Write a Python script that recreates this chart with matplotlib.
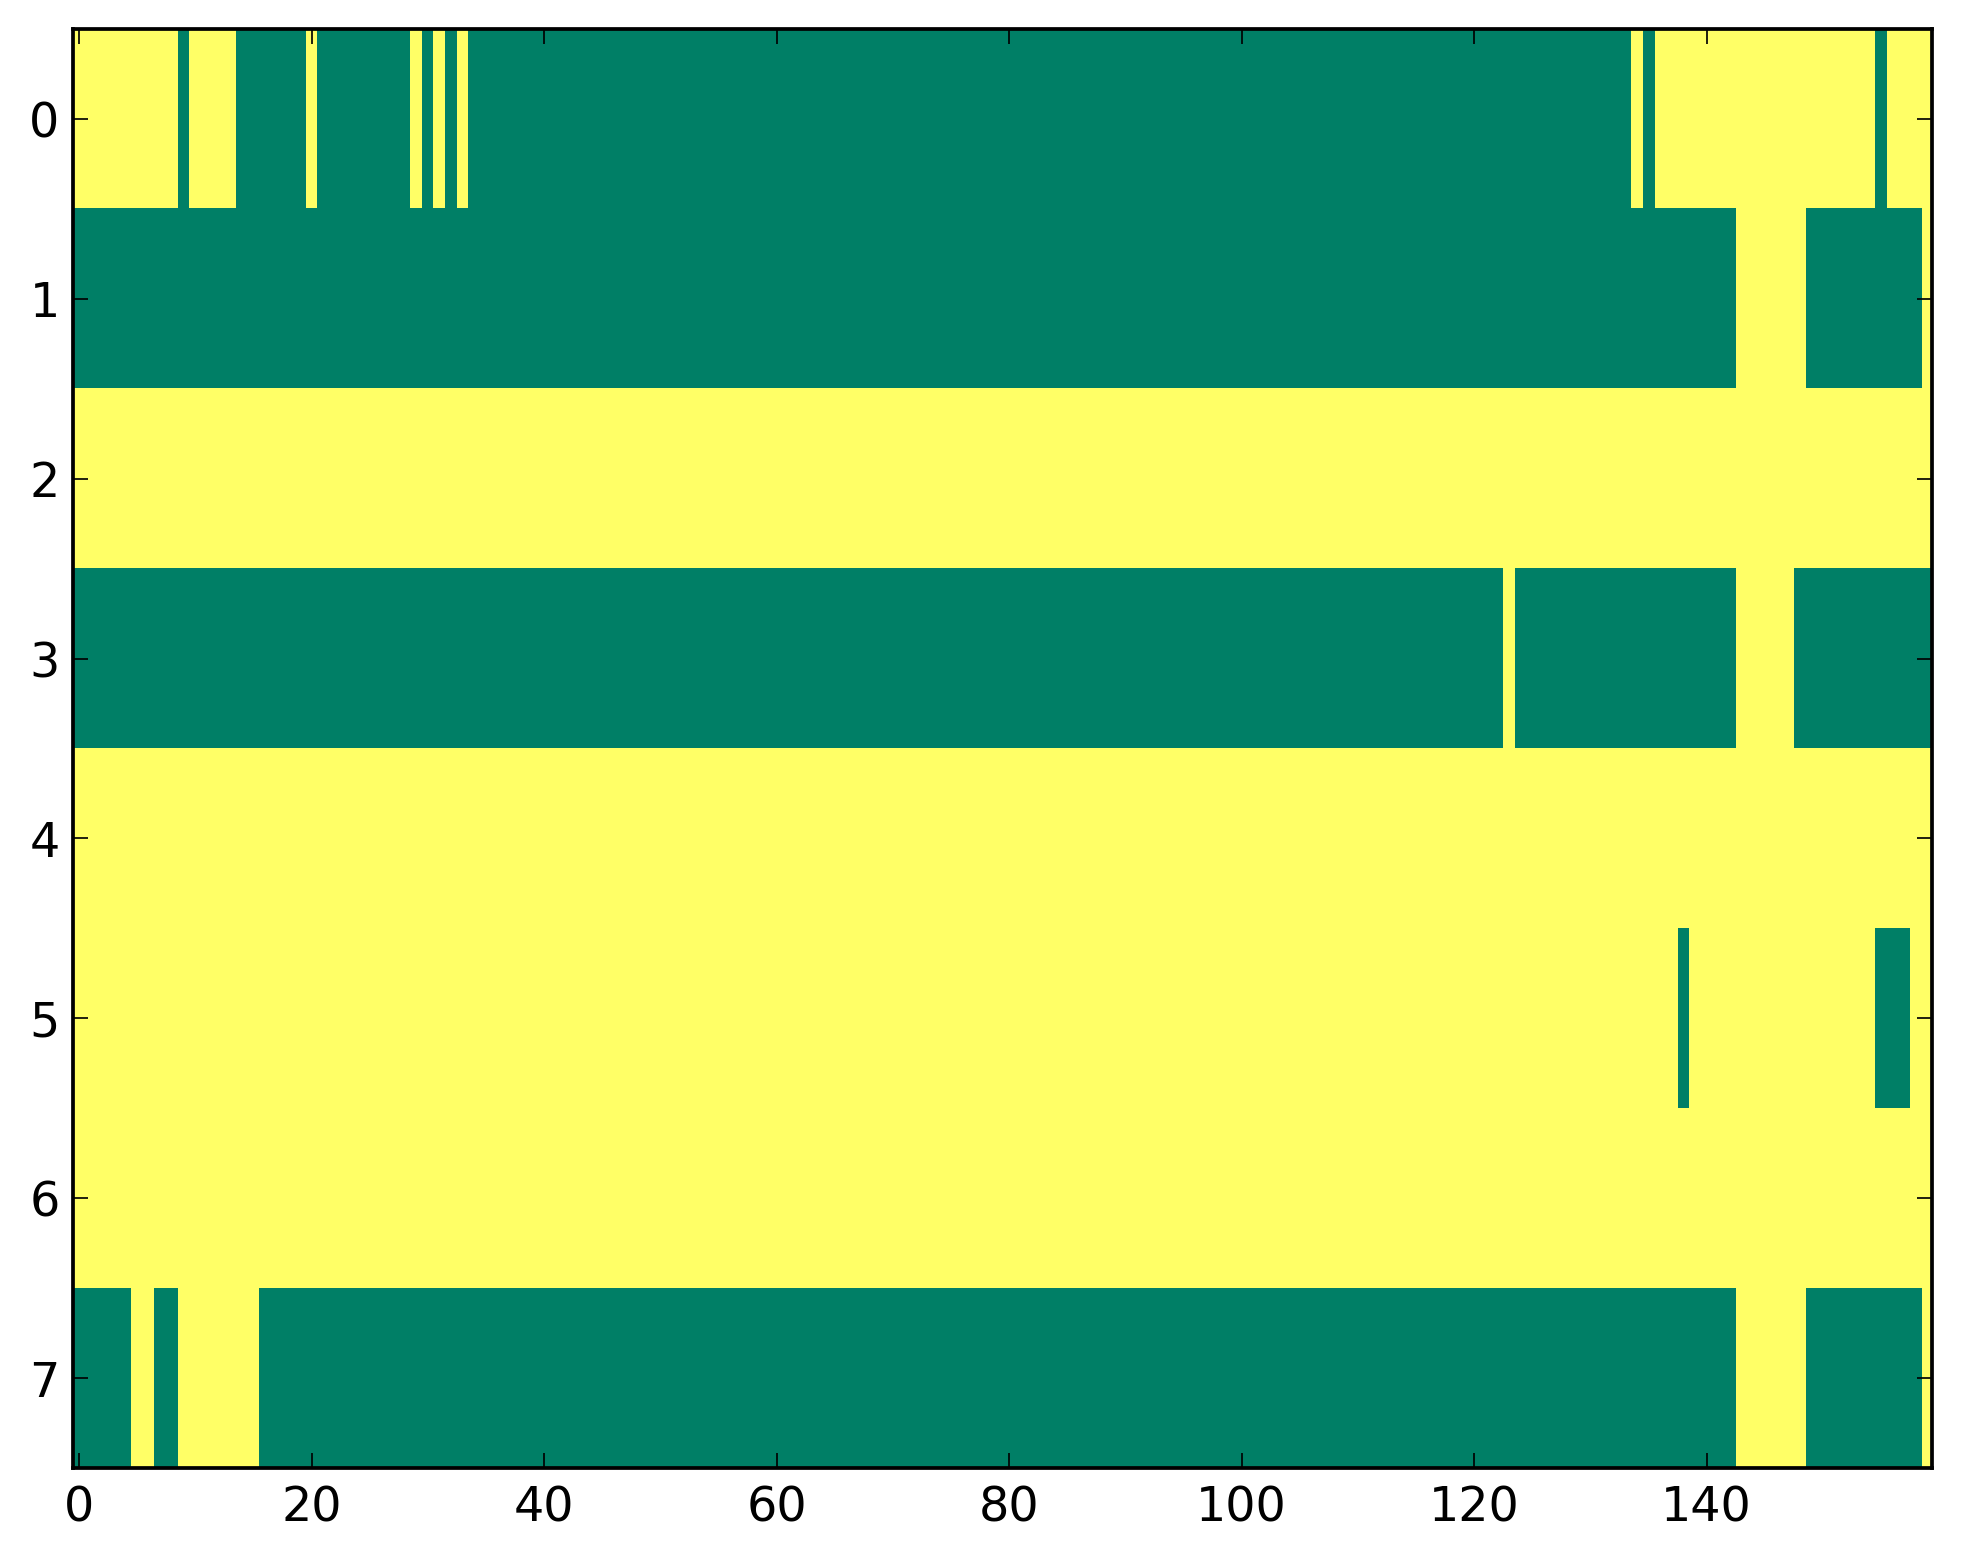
import numpy as np
import matplotlib
matplotlib.use('Agg')
import matplotlib.pyplot as plt

# each row as (value, run length) pairs, 0 = green, 1 = yellow
row0 = [(1, 9), (0, 1), (1, 4), (0, 6), (1, 1), (0, 8), (1, 1), (0, 1), (1, 1),
        (0, 1), (1, 1), (0, 100), (1, 1), (0, 1), (1, 19), (0, 1), (1, 4)]
row1 = [(0, 143), (1, 6), (0, 10), (1, 1)]
row2 = [(1, 160)]
row3 = [(0, 123), (1, 1), (0, 19), (1, 5), (0, 12)]
row4 = [(1, 160)]
row5 = [(1, 138), (0, 1), (1, 16), (0, 3), (1, 2)]
row6 = [(1, 160)]
row7 = [(0, 5), (1, 2), (0, 2), (1, 7), (0, 127), (1, 6), (0, 10), (1, 1)]

rows = [row0, row1, row2, row3, row4, row5, row6, row7]
x_ticks = [0, 20, 40, 60, 80, 100, 120, 140]
y_ticks = [0, 1, 2, 3, 4, 5, 6, 7]


def expand(runs):
    vals = [v for v, n in runs]
    counts = [n for v, n in runs]
    return np.repeat(vals, counts)


grid = np.array([expand(r) for r in rows])

dpi = 245
fig = plt.figure(figsize=(1963 / dpi, 1564 / dpi), dpi=dpi)
ax = fig.add_axes([0.0373, 0.0614, 0.9467, 0.9201])
ax.imshow(grid, cmap='summer', aspect='auto', interpolation='nearest',
          vmin=0, vmax=1)
ax.set_xlim(-0.5, 159.36)
ax.set_ylim(7.5, -0.5)

ax.set_xticks(x_ticks)
ax.set_yticks(y_ticks)
ax.tick_params(direction='in', length=4.4, width=0.5, labelsize=14,
               top=True, right=True)
ax.tick_params(axis='x', pad=5)
ax.tick_params(axis='y', pad=4)
for sp in ax.spines.values():
    sp.set_linewidth(1.1)

fig.savefig('out.png', dpi=dpi, facecolor='white')
